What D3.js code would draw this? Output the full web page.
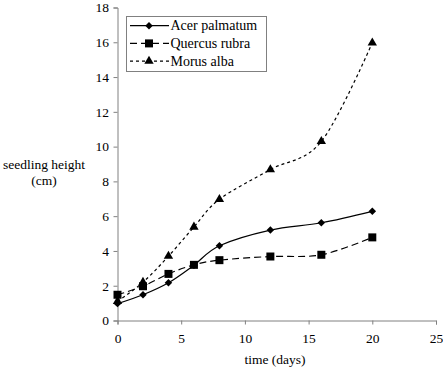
<!DOCTYPE html>
<html><head><meta charset="utf-8">
<script src="https://cdn.jsdelivr.net/npm/d3@7"></script>
<style>body{margin:0;background:#fff}svg{display:block}</style>
</head><body><svg id="c" width="443" height="370" font-family="Liberation Serif"></svg>
<script>
const days = [0, 2, 4, 6, 8, 12, 16, 20];
const acer = [0.97, 1.48, 2.17, 3.18, 4.3, 5.2, 5.62, 6.28];
const quercus = [1.48, 1.97, 2.68, 3.2, 3.47, 3.68, 3.78, 4.78];
const morus = [1.1, 2.2, 3.7, 5.38, 6.97, 8.68, 10.3, 15.97];
const seriesNames = ["Acer palmatum", "Quercus rubra", "Morus alba"];
const xTicks = [0, 5, 10, 15, 20, 25];
const yTicks = [0, 2, 4, 6, 8, 10, 12, 14, 16, 18];

const svg = d3.select("#c");
const x = d3.scaleLinear().domain([0, 25]).range([117.5, 436]);
const y = d3.scaleLinear().domain([0, 18]).range([320.5, 7.5]);
const axisColor = "#808080";
const FONT = "Liberation Serif";
const FS = 13.5;

const xa = svg.append("g").attr("transform", "translate(0,320.5)")
  .call(d3.axisBottom(x).tickValues(xTicks).tickSize(4).tickPadding(6));
const ya = svg.append("g").attr("transform", "translate(117.5,0)")
  .call(d3.axisLeft(y).tickValues(yTicks).tickSize(4).tickPadding(4.5));
[xa, ya].forEach(g => {
  g.attr("font-family", FONT).attr("font-size", FS);
  g.select(".domain").attr("stroke", axisColor);
  g.selectAll(".tick line").attr("stroke", axisColor);
  g.selectAll(".tick text").attr("font-family", FONT).attr("font-size", FS).attr("fill", "#000");
});
xa.selectAll(".tick text").attr("dy", "0.95em");

function label(tx, ty, s) {
  svg.append("text").attr("x", tx).attr("y", ty).attr("text-anchor", "middle")
    .attr("font-family", FONT).attr("font-size", FS).text(s);
}
label(275, 364, "time (days)");
label(44, 169, "seedling height");
label(44, 185, "(cm)");

const series = [
  {name: seriesNames[0], vals: acer, dash: null, sym: d3.symbolSquare, size: 28, rot: 45},
  {name: seriesNames[1], vals: quercus, dash: "7,4", sym: d3.symbolSquare, size: 64, rot: 0},
  {name: seriesNames[2], vals: morus, dash: "3,3", sym: d3.symbolTriangle, size: 38, rot: 0}
];

const line = d3.line().x(d => x(d[0])).y(d => y(d[1])).curve(d3.curveCardinal.tension(0));

series.forEach(s => {
  const pts = days.map((d, i) => [d, s.vals[i]]);
  svg.append("path").attr("d", line(pts)).attr("fill", "none").attr("stroke", "#000")
    .attr("stroke-width", 1.2).attr("stroke-dasharray", s.dash);
});
series.slice().reverse().forEach(s => {
  const pts = days.map((d, i) => [d, s.vals[i]]);
  svg.append("g").selectAll("path").data(pts).join("path")
    .attr("transform", d => `translate(${x(d[0])},${y(d[1])}) rotate(${s.rot})`)
    .attr("d", d3.symbol(s.sym, s.size)).attr("fill", "#000");
});

const lg = svg.append("g");
lg.append("rect").attr("x", 126.5).attr("y", 16.5).attr("width", 140).attr("height", 55)
  .attr("fill", "#fff").attr("stroke", axisColor);
series.forEach((s, i) => {
  const ly = 25.7 + i * 17.7;
  lg.append("line").attr("x1", 130).attr("x2", 169).attr("y1", ly).attr("y2", ly)
    .attr("stroke", "#000").attr("stroke-width", 1.2).attr("stroke-dasharray", s.dash);
  lg.append("path").attr("transform", `translate(149,${ly}) rotate(${s.rot})`)
    .attr("d", d3.symbol(s.sym, s.size)).attr("fill", "#000");
  lg.append("text").attr("x", 170.5).attr("y", ly + 4.5)
    .attr("font-family", FONT).attr("font-size", 14).text(s.name);
});
</script></body></html>
